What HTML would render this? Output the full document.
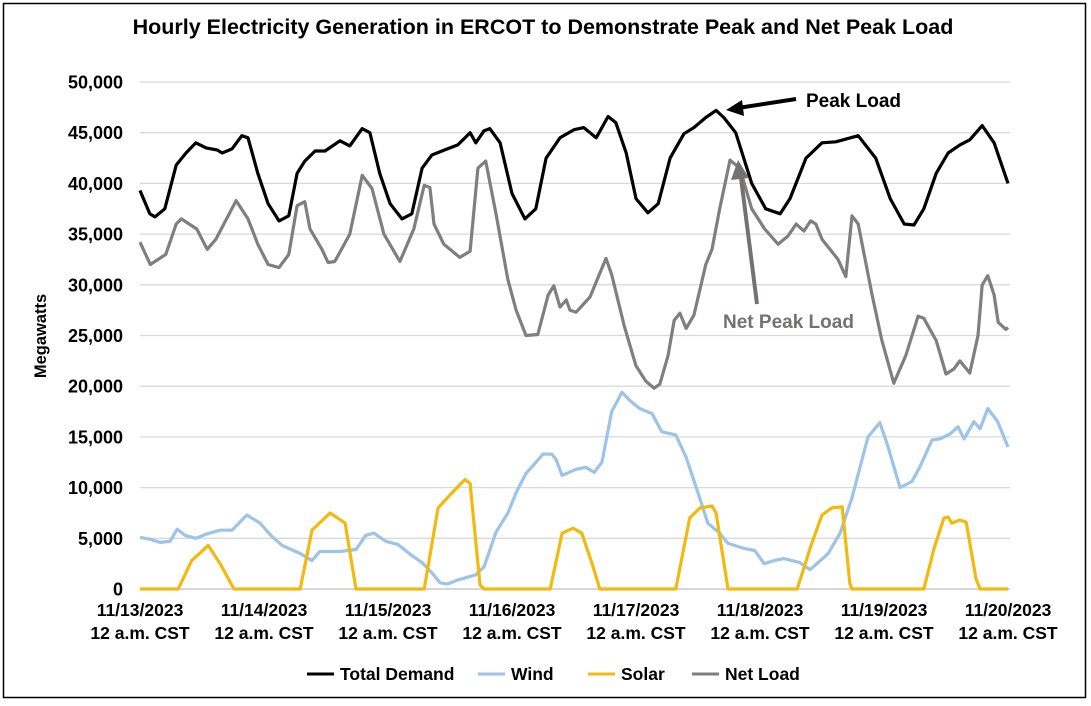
<!DOCTYPE html>
<html><head><meta charset="utf-8">
<style>
body{margin:0;background:#fff;font-family:"Liberation Sans",Arial,sans-serif;}
svg text{font-family:"Liberation Sans",Arial,sans-serif;}
</style></head>
<body>
<svg id="chart" width="1091" height="701" viewBox="0 0 1091 701" xmlns="http://www.w3.org/2000/svg">
<rect x="3.5" y="3.5" width="1082" height="694" fill="#fff" stroke="#000" stroke-width="1.5"/>
<text x="543" y="34" text-anchor="middle" font-size="21.5" font-weight="bold">Hourly Electricity Generation in ERCOT to Demonstrate Peak and Net Peak Load</text>
<g id="grid"></g>
<g id="yticks"></g>
<g id="xticks"></g>
<text transform="translate(46,336) rotate(-90)" text-anchor="middle" font-size="16.5" font-weight="bold">Megawatts</text>
<g id="series"></g>
<g>
<line x1="796" y1="99" x2="738" y2="108" stroke="#000" stroke-width="4"/>
<polygon points="726,110 742,100 744,116" fill="#000"/>
<text x="806" y="107" font-size="19" font-weight="bold">Peak Load</text>
</g>
<g>
<line x1="757" y1="304" x2="741" y2="178" stroke="#767171" stroke-width="4"/>
<polygon points="738,160 731,180 749,178" fill="#767171"/>
<text x="723" y="328" font-size="19" font-weight="bold" fill="#767171">Net Peak Load</text>
</g>
<g id="legend"></g>
</svg>
<script>
const yTicks=[0,5000,10000,15000,20000,25000,30000,35000,40000,45000,50000];
const xDayLabels=["11/13/2023","11/14/2023","11/15/2023","11/16/2023","11/17/2023","11/18/2023","11/19/2023","11/20/2023"];
const demandHours=[0,1.9,2.9,4.8,7,8.9,10.8,12.8,14.9,15.9,17.8,19.7,20.9,22.8,24.8,26.9,28.8,30.4,31.9,33.9,35.8,38.7,40.6,43,44.5,46.4,48.4,50.7,52.6,54.6,56.5,59,61.5,63.9,65,66.6,67.7,69.7,72,74.5,76.6,78.6,81.3,84,85.9,88.3,90.6,92.1,94.1,96,98.3,100.3,102.6,105.3,107.2,109.5,111.5,113,115.3,118.4,121.1,123.9,125.8,128.9,132,134.7,139,142.4,145.2,147.9,149.8,151.7,154.1,156.4,158.7,160.6,163,165.3,168];
const demandValues=[39300,37000,36700,37500,41800,43000,44000,43500,43300,43000,43400,44700,44500,41000,38000,36300,36800,41000,42200,43200,43200,44200,43700,45400,45000,41000,38000,36500,37000,41500,42800,43300,43800,45000,44000,45200,45400,44000,39000,36500,37500,42500,44500,45300,45500,44500,46600,46000,43000,38500,37100,38000,42500,44900,45500,46500,47200,46500,45000,40000,37500,37000,38500,42500,44000,44100,44700,42500,38500,36000,35900,37500,41000,43000,43800,44300,45700,44000,40000];
const netHours=[0,2,5,7,8,11,13,14.7,18.6,20.9,22.8,24.8,26.9,28.8,30.4,31.9,32.9,35.2,36.4,37.7,40.6,43,44.9,47.2,50.3,53,55,56.1,56.9,58.8,61.9,63.9,65.4,66.9,68.9,71.2,72.8,74.7,77,79,80.1,81.3,82.5,83.2,84.4,87.1,90.2,91.3,93.7,96,97.9,99.5,100.6,102.2,103.4,104.5,105.7,107.2,109.5,110.7,112.2,114.2,116.1,118.4,120.9,123.5,125.4,127,128.5,129.8,130.8,132,135.1,136.6,137.8,139,141.7,143.6,145.9,148.2,150.6,151.7,154.1,156,157.5,158.7,160.6,162.2,163,164.1,165.3,166.1,167.6,168];
const netValues=[34200,32000,33000,36000,36500,35500,33500,34500,38300,36500,34000,32000,31700,33000,37800,38200,35500,33500,32200,32300,35000,40800,39500,35000,32300,35500,39800,39600,36000,34000,32700,33300,41500,42200,37000,30500,27500,25000,25100,29000,29900,27800,28500,27500,27300,28800,32600,31000,26000,22000,20500,19800,20200,23000,26500,27200,25700,27000,32000,33500,37500,42300,41500,37500,35500,34000,34800,36000,35300,36300,36000,34500,32500,30800,36800,36000,29000,24500,20300,23000,26900,26700,24500,21200,21700,22500,21300,25000,30000,30900,29000,26300,25600,25800];
const windHours=[0,2,3.9,5.8,7.2,8.7,10.8,12.8,15.5,17.8,20.7,23.2,25.5,27.5,31,33.3,34.8,38.7,41.8,43.7,45.3,47.6,49.9,52.6,54.6,56.5,58.1,59.6,61.5,65,66.6,68.9,71.2,72.8,74.7,76.3,78,79.7,80.5,81.7,84.4,86.3,87.9,89.4,91.3,93.3,94.8,96.7,99.1,101,103.7,105.7,108,109.9,112.2,113.8,116.9,119,120.8,122.7,124.6,127.7,129.7,133.2,135.5,137.8,140.9,143.2,144.8,147.1,149.4,150.9,153.3,154.8,156.8,158.3,159.5,161.4,162.6,164.1,166,168];
const windValues=[5100,4900,4600,4700,5900,5300,5000,5400,5800,5800,7300,6500,5200,4300,3500,2800,3700,3700,3900,5300,5500,4700,4400,3300,2600,1600,600,500,900,1400,2200,5600,7500,9500,11400,12300,13300,13300,12800,11200,11800,12000,11500,12500,17500,19400,18600,17800,17300,15500,15200,13000,9500,6500,5500,4500,4000,3800,2500,2800,3000,2600,1900,3500,5500,9000,15000,16400,14000,10000,10600,12000,14700,14800,15300,16000,14800,16500,15800,17800,16500,14000];
const solarHours=[0,7.4,10,13.2,15.5,18.2,31,33.3,36.8,39.7,41.8,55,57.7,60.4,62.9,63.9,65.8,66.6,79.4,81.7,83.8,85.5,87.5,89,103.7,106.4,108.4,110.7,111.5,113.8,127.2,130,132,133.9,135.9,137.4,137.8,151.7,153.7,155.6,156.4,157.1,158.7,159.9,161.8,162.6,168];
const solarValues=[0,0,2800,4300,2500,0,0,5800,7500,6500,0,0,8000,9500,10800,10400,400,0,0,5500,6000,5500,2500,0,0,7000,8000,8200,7500,0,0,4500,7300,8000,8100,500,0,0,4000,7000,7100,6500,6800,6600,1000,0,0];

const NS="http://www.w3.org/2000/svg";
const X0=140,X1=1008,Y0=589,Y1=82;
function xs(h){return X0+(X1-X0)*h/168;}
function ys(v){return Y0-(Y0-Y1)*v/50000;}
function mk(tag,attrs,parent){const e=document.createElementNS(NS,tag);for(const k in attrs)e.setAttribute(k,attrs[k]);parent.appendChild(e);return e;}

const grid=document.getElementById('grid'),yt=document.getElementById('yticks'),xt=document.getElementById('xticks');
yTicks.forEach(v=>{
  const l=mk('line',{x1:X0,x2:1010,y1:ys(v),y2:ys(v),stroke:v===0?'#bfbfbf':'#d9d9d9','stroke-width':1.3},grid);
  
  
  const t=mk('text',{x:123,y:ys(v)+6.5,'text-anchor':'end','font-size':18,'font-weight':'bold'},yt);
  
  
  t.textContent=v.toLocaleString('en-US');
});
xDayLabels.forEach((d,i)=>{
  const x=xs(i*24);
  const t=mk('text',{x:x,y:616,'text-anchor':'middle','font-size':17.5,'font-weight':'bold'},xt);
  
  
  t.textContent=d;
  const t2=mk('text',{x:x,y:639,'text-anchor':'middle','font-size':17.5,'font-weight':'bold'},xt);
  
  
  t2.textContent='12 a.m. CST';
});
const ser=document.getElementById('series');
function line(h,v,color,name){
  const d=h.map((hh,i)=>(i?'L':'M')+xs(hh).toFixed(1)+','+ys(v[i]).toFixed(1)).join('');
  const p=mk('path',{d:d,fill:'none',stroke:color,'stroke-width':3.2,'stroke-linejoin':'round'},ser);
  
  
}
line(windHours,windValues,'#9dc3e6','wind-line');
line(solarHours,solarValues,'#f2b90f','solar-line');
line(netHours,netValues,'#7f7f7f','net-load-line');
line(demandHours,demandValues,'#000000','total-demand-line');

const lg=document.getElementById('legend');
[["Total Demand","#000",307],["Wind","#9dc3e6",478],["Solar","#f2b90f",588],["Net Load","#7f7f7f",692]].forEach(e=>{
  const g=mk('g',{},lg);
  
  
  mk('line',{x1:e[2],x2:e[2]+27,y1:674,y2:674,stroke:e[1],'stroke-width':3},g);
  const t=mk('text',{x:e[2]+33,y:680,'font-size':17.5,'font-weight':'bold'},g);
  t.textContent=e[0];
});
</script>
</body></html>
